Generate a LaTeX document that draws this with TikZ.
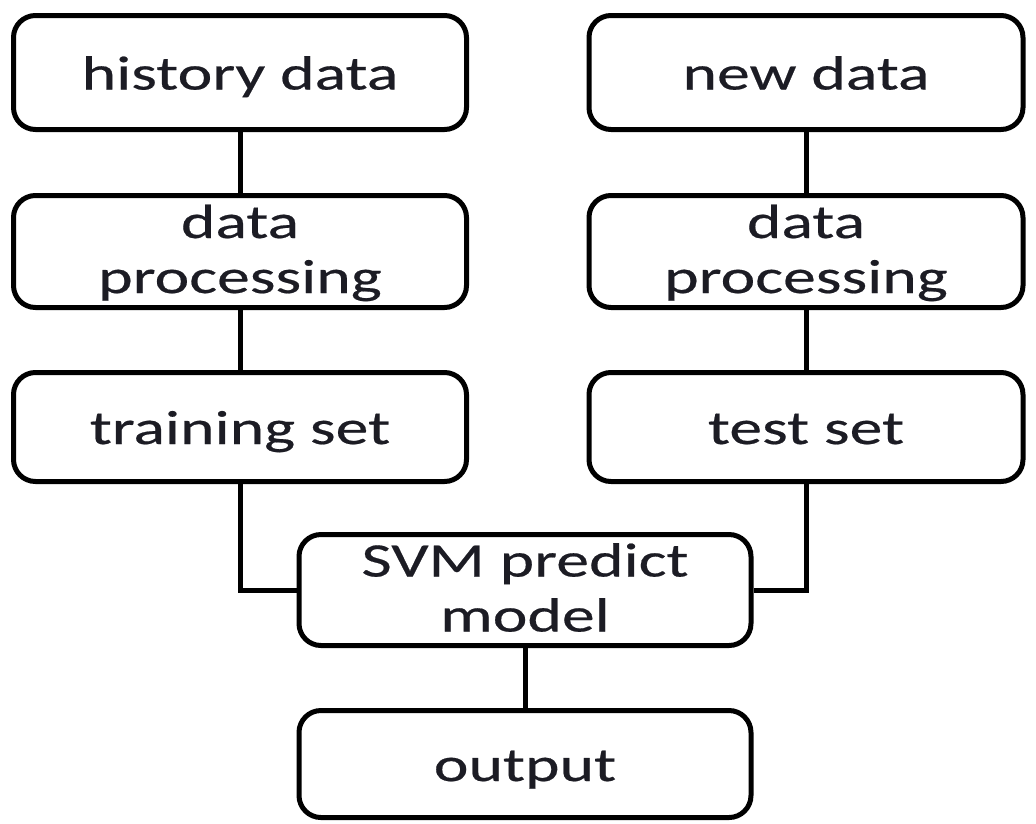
\documentclass[tikz,border=0pt]{standalone}
\usepackage{fontspec}
\setmainfont{Carlito}[FakeStretch=1.37,FakeBold=0.4]
\definecolor{txt}{RGB}{28,28,36}
\newcommand{\boxtext}[2][-6pt]{\raisebox{#1}[\height][\depth]{\begin{tabular}{@{}c@{}}#2\end{tabular}}}
\begin{document}
\begin{tikzpicture}[x=1pt,y=-1pt,
  box/.style={draw=black, line width=5pt, rounded corners=22pt, fill=white,
    align=center, inner sep=0pt, text=txt,
    font=\fontsize{48}{55}\selectfont},
  link/.style={draw=black, line width=5pt}]
\useasboundingbox (0,0) rectangle (1036,823);
\node[box, minimum width=453pt, minimum height=114pt] (hist) at (240,72.5) {\boxtext{history data}};
\node[box, minimum width=434pt, minimum height=114pt] (newd) at (806,72.5) {\boxtext{new data}};
\node[box, minimum width=453pt, minimum height=112pt] (dpl) at (240,251.5) {\boxtext[-3pt]{data\\processing}};
\node[box, minimum width=434pt, minimum height=112pt] (dpr) at (806,251.5) {\boxtext[-3pt]{data\\processing}};
\node[box, minimum width=453pt, minimum height=109pt] (train) at (240,427) {\boxtext{training set}};
\node[box, minimum width=434pt, minimum height=109pt] (test) at (806,427) {\boxtext{test set}};
\node[box, minimum width=452pt, minimum height=111pt] (svm) at (525,590) {\boxtext[-3pt]{SVM predict\\model}};
\node[box, minimum width=452pt, minimum height=107pt] (out) at (525,764) {\boxtext{output}};
\draw[link] (hist) -- (dpl);
\draw[link] (dpl) -- (train);
\draw[link] (newd) -- (dpr);
\draw[link] (dpr) -- (test);
\draw[link] (train.south) |- (svm.west);
\draw[link] (test.south) |- (svm.east);
\draw[link] (svm) -- (out);
\end{tikzpicture}
\end{document}
